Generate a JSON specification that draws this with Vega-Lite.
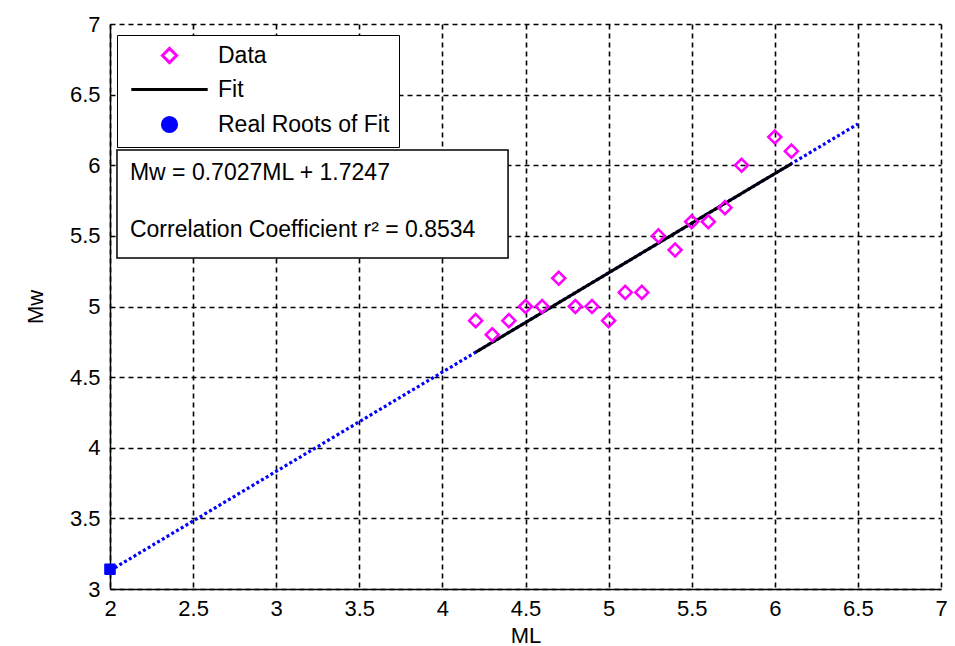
{
  "$schema": "https://vega.github.io/schema/vega-lite/v6.json",
  "width": 831,
  "height": 565,
  "autosize": {"type": "none"},
  "padding": {"left": 110, "top": 24, "right": 14, "bottom": 57},
  "background": "white",
  "config": {
    "font": "Liberation Sans",
    "view": {"stroke": null},
    "axis": {
      "grid": true,
      "domainColor": "black",
      "domainWidth": 1.5,
      "gridColor": "black",
      "gridDash": [5, 4],
      "gridOpacity": 1,
      "gridWidth": 1.6,
      "ticks": false,
      "labelFlush": false,
      "labelColor": "black",
      "labelFont": "Liberation Sans",
      "labelFontSize": 22,
      "titleFont": "Liberation Sans",
      "titleFontSize": 22,
      "titleFontWeight": "normal",
      "titleColor": "black"
    }
  },
  "datasets": {
    "points": [
      {"ML": 4.2, "Mw": 4.9, "series": "Data"},
      {"ML": 4.3, "Mw": 4.8, "series": "Data"},
      {"ML": 4.4, "Mw": 4.9, "series": "Data"},
      {"ML": 4.5, "Mw": 5.0, "series": "Data"},
      {"ML": 4.6, "Mw": 5.0, "series": "Data"},
      {"ML": 4.7, "Mw": 5.2, "series": "Data"},
      {"ML": 4.8, "Mw": 5.0, "series": "Data"},
      {"ML": 4.9, "Mw": 5.0, "series": "Data"},
      {"ML": 5.0, "Mw": 4.9, "series": "Data"},
      {"ML": 5.1, "Mw": 5.1, "series": "Data"},
      {"ML": 5.2, "Mw": 5.1, "series": "Data"},
      {"ML": 5.3, "Mw": 5.5, "series": "Data"},
      {"ML": 5.4, "Mw": 5.4, "series": "Data"},
      {"ML": 5.5, "Mw": 5.6, "series": "Data"},
      {"ML": 5.6, "Mw": 5.6, "series": "Data"},
      {"ML": 5.7, "Mw": 5.7, "series": "Data"},
      {"ML": 5.8, "Mw": 6.0, "series": "Data"},
      {"ML": 6.0, "Mw": 6.2, "series": "Data"},
      {"ML": 6.1, "Mw": 6.1, "series": "Data"}
    ],
    "fitFull": [
      {"ML": 2.0, "Mw": 3.1301},
      {"ML": 6.5, "Mw": 6.2923}
    ],
    "fitData": [
      {"ML": 4.2, "Mw": 4.676},
      {"ML": 6.1, "Mw": 6.0112}
    ],
    "roots": [
      {"ML": 2.0, "Mw": 3.14, "series": "Real Roots of Fit"}
    ],
    "note": [
      {"line1": "Mw = 0.7027ML + 1.7247", "line2": "Correlation Coefficient r² = 0.8534"}
    ]
  },
  "layer": [
    {
      "data": {"name": "note"},
      "mark": {"type": "rect", "fill": "white", "stroke": "black", "strokeWidth": 1.5},
      "encoding": {
        "x": {"datum": 2.042, "type": "quantitative", "scale": {"domain": [2, 7], "nice": false},
          "axis": {"title": "ML", "values": [2, 2.5, 3, 3.5, 4, 4.5, 5, 5.5, 6, 6.5, 7], "format": "~g", "labelPadding": 9, "titlePadding": 6}},
        "x2": {"datum": 4.395},
        "y": {"datum": 6.108, "type": "quantitative", "scale": {"domain": [3, 7], "nice": false},
          "axis": {"title": "Mw", "values": [3, 3.5, 4, 4.5, 5, 5.5, 6, 6.5, 7], "format": "~g", "labelPadding": 10, "titlePadding": 22}},
        "y2": {"datum": 5.343}
      }
    },
    {
      "data": {"name": "fitFull"},
      "mark": {"type": "line", "color": "#0000ff", "strokeWidth": 3.2, "strokeDash": [3, 2.5]},
      "encoding": {
        "x": {"field": "ML", "type": "quantitative"},
        "y": {"field": "Mw", "type": "quantitative"}
      }
    },
    {
      "data": {"name": "fitData"},
      "mark": {"type": "line", "color": "black", "strokeWidth": 3},
      "encoding": {
        "x": {"field": "ML", "type": "quantitative"},
        "y": {"field": "Mw", "type": "quantitative"}
      }
    },
    {
      "data": {"name": "points"},
      "mark": {"type": "point", "size": 169, "strokeWidth": 2.5, "opacity": 1},
      "encoding": {
        "x": {"field": "ML", "type": "quantitative"},
        "y": {"field": "Mw", "type": "quantitative"},
        "shape": {"field": "series", "type": "nominal",
          "scale": {"domain": ["Data", "Fit", "Real Roots of Fit"], "range": ["diamond", "M-5.4,0H5.4", "circle"]},
          "legend": {"title": null, "orient": "none", "legendX": 7, "legendY": 11, "padding": 9, "fillColor": "white", "strokeColor": "black", "labelFontSize": 23, "labelFont": "Liberation Sans", "labelColor": "black", "labelLimit": 0, "symbolSize": 200, "symbolStrokeWidth": 3, "symbolOffset": 32, "labelOffset": 37, "rowPadding": 9}},
        "fill": {"field": "series", "type": "nominal",
          "scale": {"domain": ["Data", "Fit", "Real Roots of Fit"], "range": ["transparent", "transparent", "#0000ff"]},
          "legend": {"title": null, "orient": "none", "legendX": 7, "legendY": 11, "padding": 9, "fillColor": "white", "strokeColor": "black", "labelFontSize": 23, "labelFont": "Liberation Sans", "labelColor": "black", "labelLimit": 0, "symbolSize": 200, "symbolStrokeWidth": 3, "symbolOffset": 32, "labelOffset": 37, "rowPadding": 9}},
        "stroke": {"field": "series", "type": "nominal",
          "scale": {"domain": ["Data", "Fit", "Real Roots of Fit"], "range": ["#ff00ff", "#000000", "#0000ff"]},
          "legend": {"title": null, "orient": "none", "legendX": 7, "legendY": 11, "padding": 9, "fillColor": "white", "strokeColor": "black", "labelFontSize": 23, "labelFont": "Liberation Sans", "labelColor": "black", "labelLimit": 0, "symbolSize": 200, "symbolStrokeWidth": 3, "symbolOffset": 32, "labelOffset": 37, "rowPadding": 9}}
      }
    },
    {
      "data": {"name": "roots"},
      "mark": {"type": "point", "shape": "square", "filled": true, "size": 110, "strokeWidth": 1, "opacity": 1},
      "encoding": {
        "x": {"field": "ML", "type": "quantitative"},
        "y": {"field": "Mw", "type": "quantitative"},
        "fill": {"field": "series", "type": "nominal"},
        "stroke": {"field": "series", "type": "nominal"}
      }
    },
    {
      "data": {"name": "note"},
      "mark": {"type": "text", "align": "left", "baseline": "middle", "fontSize": 23, "font": "Liberation Sans", "color": "black"},
      "encoding": {
        "x": {"datum": 2.12, "type": "quantitative"},
        "y": {"datum": 5.945, "type": "quantitative"},
        "text": {"field": "line1"}
      }
    },
    {
      "data": {"name": "note"},
      "mark": {"type": "text", "align": "left", "baseline": "middle", "fontSize": 23, "font": "Liberation Sans", "color": "black"},
      "encoding": {
        "x": {"datum": 2.12, "type": "quantitative"},
        "y": {"datum": 5.54, "type": "quantitative"},
        "text": {"field": "line2"}
      }
    }
  ]
}
